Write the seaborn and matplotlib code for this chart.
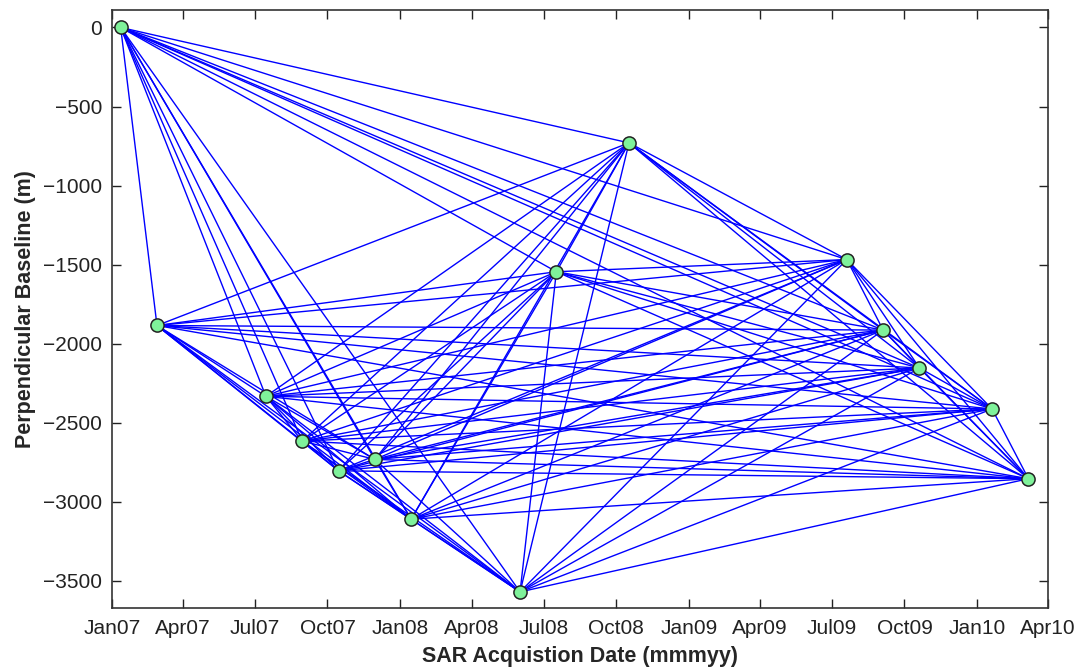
import itertools
import pandas as pd
import matplotlib.pyplot as plt
import matplotlib.dates as mdates
import seaborn as sns

# SAR acquisitions (ALOS, 46-day repeat) and perpendicular baselines
acq_dates = ['2007-01-12', '2007-02-27', '2007-07-15', '2007-08-30', '2007-10-15',
             '2007-11-30', '2008-01-15', '2008-06-01', '2008-07-17', '2008-10-17',
             '2009-07-20', '2009-09-04', '2009-10-20', '2010-01-20', '2010-03-07']
bperp = [0, -1885, -2333, -2616, -2804,
         -2732, -3110, -3570, -1545, -730,
         -1468, -1914, -2154, -2413, -2854]

acq = pd.DataFrame({'date': pd.to_datetime(acq_dates), 'bperp': bperp})

# interferogram pairs
pairs = list(itertools.combinations(range(len(acq)), 2))
rows = []
for k, (i, j) in enumerate(pairs):
    for n in (i, j):
        rows.append({'pair': k, 'date': acq['date'][n], 'bperp': acq['bperp'][n]})
edges = pd.DataFrame(rows)

sns.set_theme(style='ticks')
plt.rcParams['font.family'] = ['Liberation Sans', 'DejaVu Sans']

fig = plt.figure(figsize=(10.81, 6.71), dpi=100)
ax = fig.add_axes([0.1036, 0.0943, 0.866, 0.8907])

sns.lineplot(data=edges, x='date', y='bperp', units='pair', estimator=None, sort=False,
             color='#0000FF', linewidth=1.0, ax=ax, zorder=2)
sns.scatterplot(data=acq, x='date', y='bperp', s=90, color='#7FF29A',
                edgecolor='#222222', linewidth=1.1, ax=ax, zorder=3)

ax.set_xlim(pd.Timestamp('2007-01-01'), pd.Timestamp('2010-04-01'))
ax.set_ylim(-3670, 110)
ax.xaxis.set_major_locator(mdates.MonthLocator(bymonth=[1, 4, 7, 10]))
ax.xaxis.set_major_formatter(mdates.DateFormatter('%b%y'))
ax.set_yticks(range(-3500, 1, 500))
ax.set_yticklabels([f'\u2212{-v}' if v < 0 else str(v) for v in range(-3500, 1, 500)])

ax.tick_params(direction='in', length=6.5, width=1, top=True, right=True,
               labelsize=15, colors='#222222')
ax.tick_params(axis='x', pad=8)
ax.tick_params(axis='y', pad=7)
for sp in ax.spines.values():
    sp.set_color('#333333')
    sp.set_linewidth(1.2)

ax.set_xlabel('SAR Acquistion Date (mmmyy)', fontsize=15.5, fontweight='bold', labelpad=6)
ax.set_ylabel('Perpendicular Baseline (m)', fontsize=15.5, fontweight='bold', labelpad=5)

fig.savefig('out.png', dpi=100)
